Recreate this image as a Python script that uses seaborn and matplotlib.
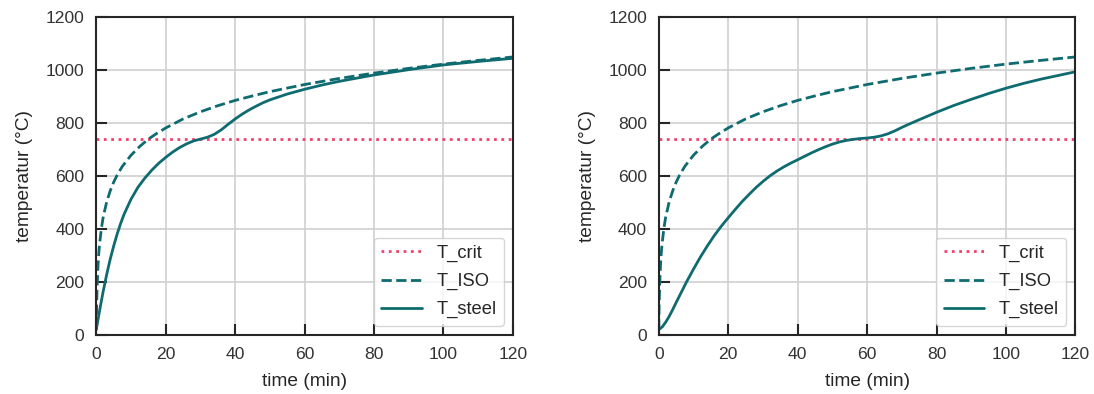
import numpy as np
import matplotlib
matplotlib.use("Agg")
import matplotlib.pyplot as plt
import pandas as pd
import seaborn as sns

# ISO-brandkurve (min, °C)
t_iso = [0, 0.1, 0.25, 0.5, 0.75, 1, 1.5, 2, 3, 4, 5, 6, 7.5, 10, 12.5, 15, 17.5, 20, 25, 30, 35, 40, 45, 50, 60, 70, 80, 90, 100, 110, 120]
T_iso = [20, 108, 182, 261, 313, 349, 404, 445, 502, 543, 576, 603, 636, 678, 711, 739, 761, 781, 815, 842, 865, 885, 902, 918, 945, 968, 988, 1006, 1022, 1036, 1049]

T_crit = 740

# stålets temperatur, venstre profil
t_steel_a = [0, 1, 2, 3, 4, 5, 6, 7, 8, 10, 12, 14, 16, 18, 20, 22, 24, 26, 28, 30, 32, 34, 36, 38, 40, 42, 44, 46, 48, 50, 55, 60, 65, 70, 80, 90, 100, 110, 120]
T_steel_a = [20, 95, 165, 228, 285, 335, 380, 420, 455, 512, 557, 592, 622, 648, 670, 690, 707, 721, 732, 739, 746, 757, 774, 795, 815, 833, 849, 863, 876, 887, 909, 927, 943, 957, 981, 1001, 1019, 1032, 1044]

# stålets temperatur, højre profil
t_steel_b = [0, 1, 2, 3, 4, 5, 6, 7, 8, 10, 12, 14, 16, 18, 20, 22, 24, 26, 28, 30, 32, 34, 36, 38, 40, 42, 44, 46, 48, 50, 52, 54, 56, 58, 60, 62, 64, 66, 68, 70, 72, 75, 80, 85, 90, 95, 100, 105, 110, 115, 120]
T_steel_b = [20, 30, 48, 70, 95, 122, 148, 174, 200, 248, 294, 336, 375, 410, 442, 473, 503, 530, 556, 579, 600, 618, 634, 648, 661, 674, 687, 699, 710, 720, 728, 734, 738, 741, 743, 746, 751, 759, 770, 783, 795, 812, 840, 866, 889, 911, 931, 949, 965, 979, 993]

teal = "#0e6b70"
red = "#f2426b"

sns.set_style("ticks", {"axes.grid": True, "xtick.direction": "in", "ytick.direction": "in"})
plt.rcParams['font.family'] = ['Liberation Sans', 'DejaVu Sans']

fig, axes = plt.subplots(1, 2, figsize=(10.94, 3.94), dpi=100)
fig.subplots_adjust(left=0.088, right=0.983, top=0.957, bottom=0.150, wspace=0.35)

for ax, ts, Ts in zip(axes, [t_steel_a, t_steel_b], [T_steel_a, T_steel_b]):
    ax.axhline(T_crit, color=red, ls=":", lw=2, label="T_crit")
    sns.lineplot(x=t_iso, y=T_iso, ax=ax, color=teal, lw=2, ls="--", label="T_ISO")
    sns.lineplot(x=ts, y=Ts, ax=ax, color=teal, lw=2, label="T_steel")
    ax.set_xlim(0, 120)
    ax.set_ylim(0, 1200)
    ax.set_xticks(range(0, 121, 20))
    ax.set_yticks(range(0, 1201, 200))
    ax.set_xlabel("time (min)", fontsize=13.8, color="#262626", labelpad=8)
    ax.set_ylabel("temperatur (°C)", fontsize=13.8, color="#262626", labelpad=9)
    ax.tick_params(labelsize=12.6, length=8, width=1.5, pad=8.5,
                   colors="#262626", labelcolor="#333333")
    ax.grid(color="#d0d0d0", lw=1.2)
    for s in ax.spines.values():
        s.set_linewidth(1.5)
        s.set_color("#262626")
    ax.legend(loc="lower right", fontsize=13.2, handlelength=2.2, labelspacing=0.6)

plt.savefig("out.png", dpi=100)
